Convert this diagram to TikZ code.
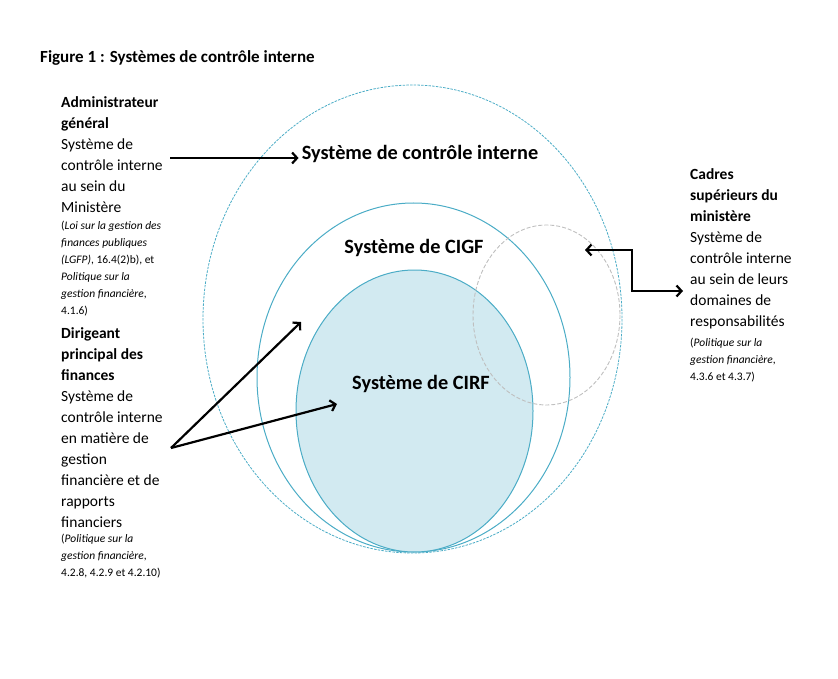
\documentclass[tikz,border=0pt]{standalone}
\usepackage{fontspec}
\setmainfont{Carlito}
\usetikzlibrary{arrows.meta}
\definecolor{ciblue}{HTML}{4BACC6}
\definecolor{cifill}{HTML}{D2EAF1}
\definecolor{cigray}{HTML}{BFBFBF}
\tikzset{
	bodytext/.style={anchor=north west, inner sep=0pt, align=left, font=\fontsize{15.5}{21}\selectfont},
	reftext/.style={anchor=north west, inner sep=0pt, align=left, font=\fontsize{11.5}{17}\selectfont},
	systext/.style={inner sep=3pt, font=\fontsize{20.3}{24}\selectfont\bfseries},
	pointer/.style={line width=2.2pt, -{Straight Barb[length=5pt,width=11pt]}},
}

\begin{document}
\begin{tikzpicture}[x=1pt, y=-1pt]
		%%%%% START %%%%%
		\useasboundingbox (0, 0) rectangle (838, 679);
		
		\node[anchor=base west, inner sep=0pt, font=\fontsize{17}{20}\selectfont\bfseries] (title) at (40, 63) {Figure 1 : Systèmes de contrôle interne};
		
		\draw[line width=0.8pt, color=ciblue, dash pattern=on 2.5pt off 1.2pt] (412.5, 319) ellipse [x radius=209.5, y radius=234];
		\draw[line width=1pt, color=ciblue] (413.5, 377.5) ellipse [x radius=156.5, y radius=174.5];
		\draw[line width=1pt, color=ciblue, fill=cifill] (414.5, 411) ellipse [x radius=118.5, y radius=141];
		\draw[line width=0.9pt, color=cigray, dash pattern=on 4pt off 2pt] (546.5, 315) ellipse [x radius=73.5, y radius=90];
		
		\node[systext] (sci) at (420, 154) {Système de contrôle interne};
		\node[systext] (cigf) at (414, 248) {Système de CIGF};
		\node[systext] (cirf) at (421, 384) {Système de CIRF};
		
		\node[bodytext] (admin) at (61, 96.5) {\textbf{Administrateur}\\\textbf{général}\\Système de\\contrôle interne\\au sein du\\Ministère};
		\node[reftext] (adminref) at (61, 221) {(\textit{Loi sur la gestion des}\\\textit{finances publiques}\\\textit{(LGFP)}, 16.4(2)b), et\\\textit{Politique sur la}\\\textit{gestion financière},\\4.1.6)};
		
		\node[bodytext] (dpf) at (61, 327.5) {\textbf{Dirigeant}\\\textbf{principal des}\\\textbf{finances}\\Système de\\contrôle interne\\en matière de\\gestion\\financière et de\\rapports\\financiers};
		\node[reftext] (dpfref) at (61, 534) {(\textit{Politique sur la}\\\textit{gestion financière},\\4.2.8, 4.2.9 et 4.2.10)};
		
		\node[bodytext] (cadres) at (690, 168.5) {\textbf{Cadres}\\\textbf{supérieurs du}\\\textbf{ministère}\\Système de\\contrôle interne\\au sein de leurs\\domaines de\\responsabilités};
		\node[reftext] (cadresref) at (690, 338) {(\textit{Politique sur la}\\\textit{gestion financière},\\4.3.6 et 4.3.7)};
		
		\coordinate (adminfrom) at (170, 158);
		\coordinate (dpffrom) at (171, 448);
		\coordinate (cigftip) at (301, 322);
		\coordinate (cirftip) at (337, 404);
		\coordinate (cadresfrom) at (683, 291);
		\coordinate (cadrestip) at (585, 250);
		
		\draw[pointer] (adminfrom) -- (adminfrom -| sci.west);
		\draw[pointer] (dpffrom) -- (cigftip);
		\draw[pointer] (dpffrom) -- (cirftip);
		\draw[pointer, {Straight Barb[length=5pt,width=11pt]}-{Straight Barb[length=5pt,width=11pt]}] (cadresfrom) -- (632, 291) -- (632, 250) -- (cadrestip);
		
		%%%%% END %%%%%
	\end{tikzpicture}
\end{document}
